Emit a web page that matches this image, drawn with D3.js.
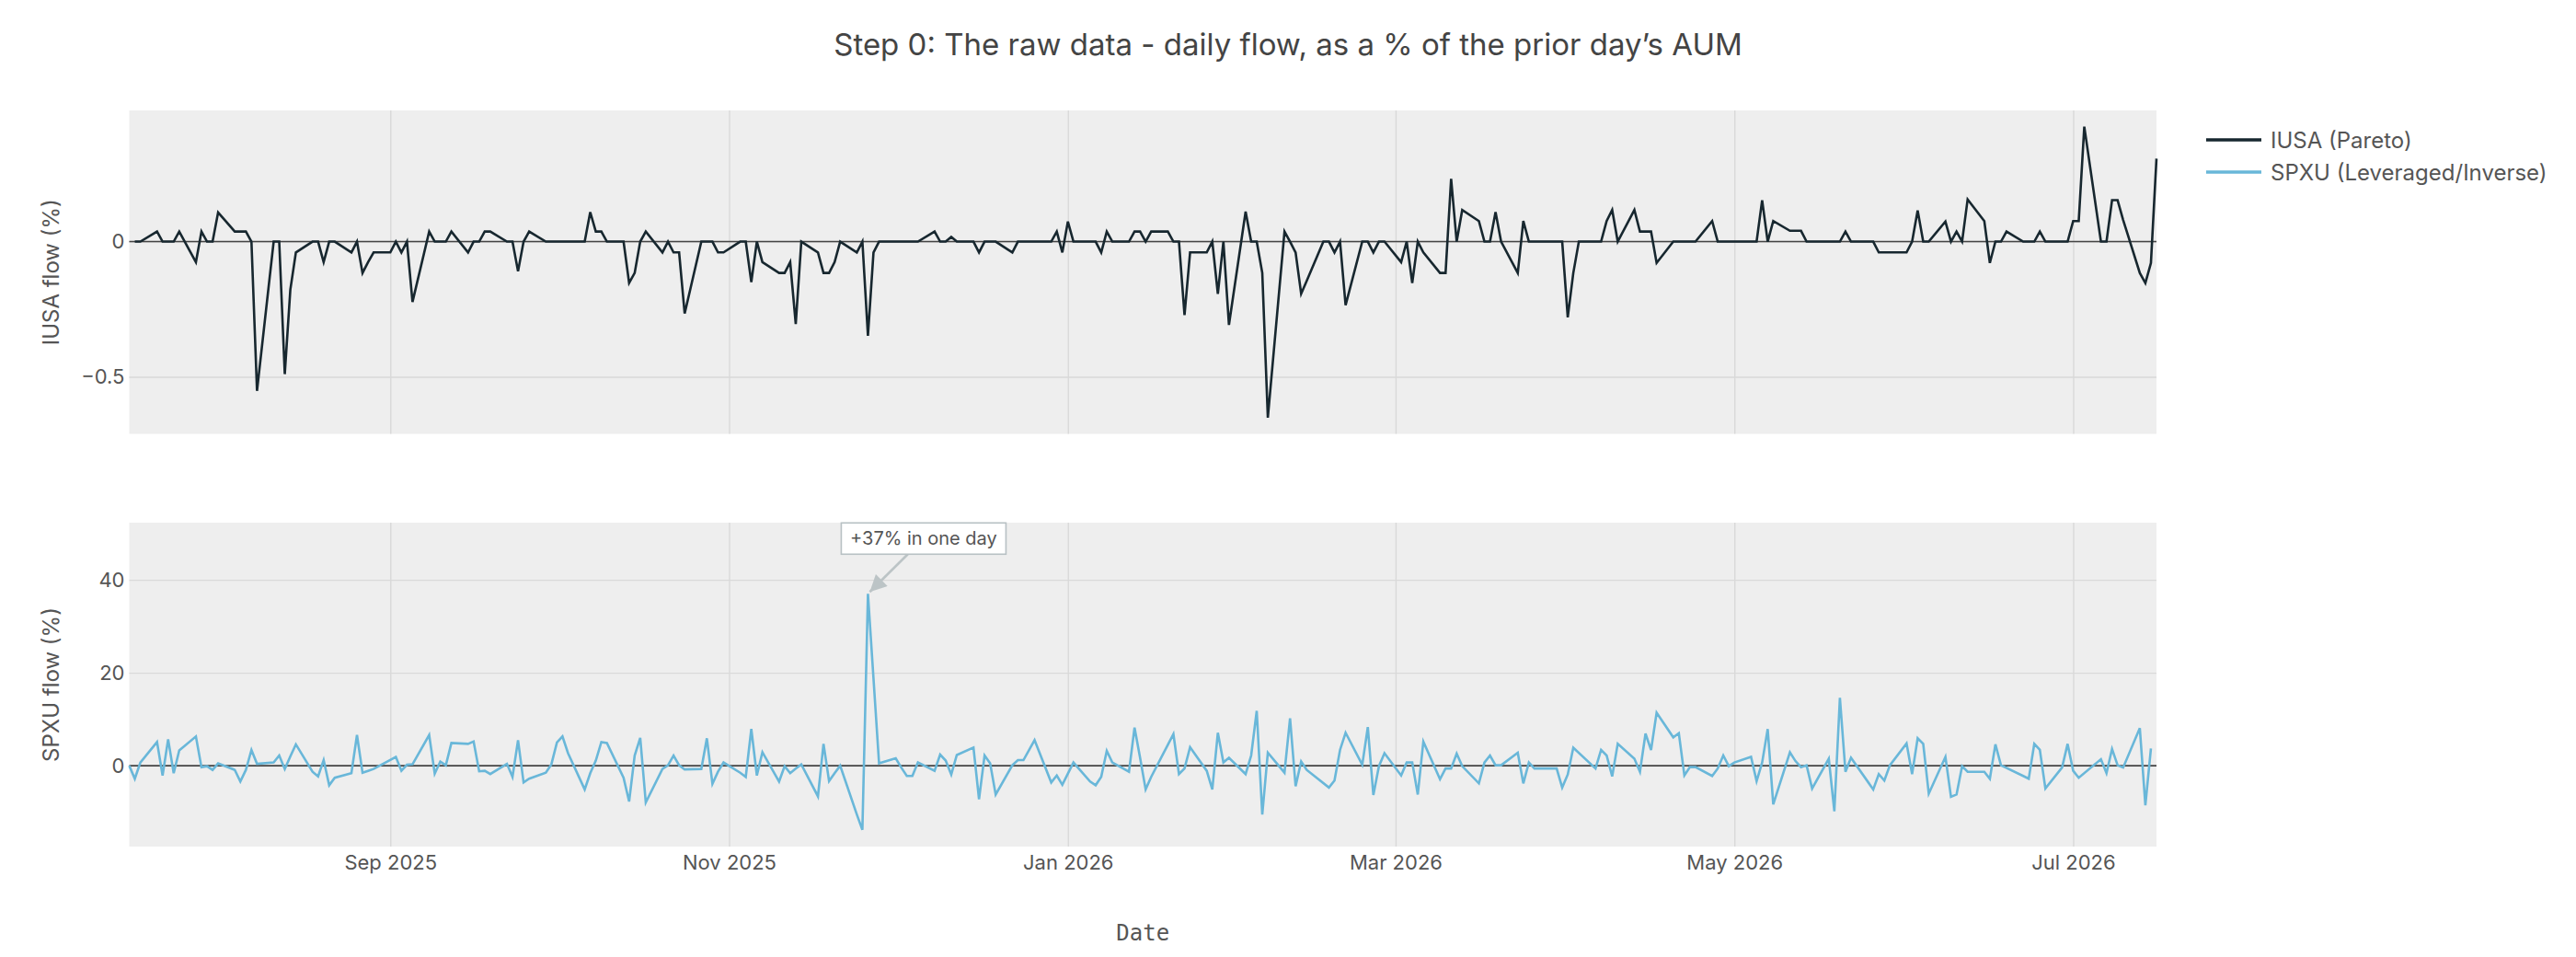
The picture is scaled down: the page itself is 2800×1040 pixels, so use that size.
<!DOCTYPE html>
<html>
<head>
<meta charset="utf-8">
<script src="https://cdn.jsdelivr.net/npm/d3@7"></script>
<style>
  html, body { margin: 0; padding: 0; background: #fff; }
  svg { display: block; font-family: Inter, "Noto Sans", sans-serif; }
</style>
</head>
<body>
<div id="chart"></div>
<script>
// --- data -------------------------------------------------------------
// IUSA trades every weekday, SPXU follows the NYSE calendar
const iusaStart = '2025-07-17', iusaEnd = '2026-07-16';
const spxuStart = '2025-07-16', spxuEnd = '2026-07-15';
const usHolidays = ['2025-09-01', '2025-11-27', '2025-12-25', '2026-01-01', '2026-01-19',
                    '2026-02-16', '2026-04-03', '2026-05-25', '2026-06-19', '2026-07-03'];

// daily flow, % of prior day AUM (one line per week)
const iusaFlow = [
  0, 0,
  0.037, 0, 0, 0, 0.037,
  -0.076, 0.037, 0, 0, 0.108,
  0.037, 0.037, 0.037, 0, -0.552,
  0, 0, -0.49, -0.178, -0.04,
  0, 0, -0.076, 0, 0,
  -0.04, 0, -0.116, -0.076, -0.04,
  -0.04, 0, -0.04, 0, -0.223,
  0.037, 0, 0, 0, 0.037,
  -0.04, 0, 0, 0.037, 0.037,
  0, 0, -0.11, 0, 0.037,
  0, 0, 0, 0, 0,
  0, 0.109, 0.037, 0.037, 0,
  0, -0.153, -0.116, 0, 0.037,
  -0.04, 0, -0.04, -0.04, -0.266,
  0, 0, 0, -0.04, -0.04,
  0, 0, -0.15, 0, -0.076,
  -0.116, -0.116, -0.076, -0.305, 0,
  -0.04, -0.116, -0.116, -0.076, 0,
  -0.04, 0, -0.348, -0.04, 0,
  0, 0, 0, 0, 0,
  0.037, 0, 0, 0.017, 0,
  0, -0.04, 0, 0, 0,
  -0.04, 0, 0, 0, 0,
  0, 0.037, -0.04, 0.074, 0,
  0, 0, -0.04, 0.037, 0,
  0, 0.037, 0.037, 0, 0.037,
  0.037, 0, 0, -0.272, -0.04,
  -0.04, 0, -0.193, 0, -0.308,
  0.111, 0, 0, -0.116, -0.651,
  0.037, 0, -0.04, -0.193, -0.145,
  0, 0, -0.04, 0, -0.235,
  0, 0, -0.04, 0, 0,
  -0.076, 0, -0.153, 0, -0.04,
  -0.116, -0.116, 0.232, 0, 0.117,
  0.076, 0, 0, 0.109, 0,
  -0.116, 0.076, 0, 0, 0,
  0, 0, -0.28, -0.116, 0,
  0, 0, 0.076, 0.117, 0,
  0.117, 0.037, 0.037, 0.037, -0.079,
  0, 0, 0, 0, 0,
  0.076, 0, 0, 0, 0,
  0, 0, 0.153, 0, 0.076,
  0.04, 0.04, 0.04, 0, 0,
  0, 0, 0, 0.037, 0,
  0, 0, -0.04, -0.04, -0.04,
  -0.04, 0, 0.115, 0, 0,
  0.074, 0, 0.037, 0, 0.156,
  0.076, -0.079, 0, 0, 0.037,
  0, 0, 0, 0.037, 0,
  0, 0, 0.076, 0.076, 0.425,
  0, 0, 0.153, 0.153, 0.08,
  -0.116, -0.153, -0.079, 0.307
];

const spxuFlow = [
  0, -2.8, 0.7,
  5.1, -2.1, 5.7, -1.6, 3.3,
  6.3, -0.3, -0.1, -0.9, 0.5,
  -0.9, -3.4, -0.9, 3.4, 0.4,
  0.7, 2.2, -0.7, 2.0, 4.6,
  -1.3, -2.3, 1.2, -4.2, -2.6,
  -1.6, 6.6, -1.5, -1.1, -0.7,
  1.9, -1.1, 0.2, 0.3,
  6.6, -1.7, 0.9, 0.1, 4.9,
  4.7, 5.2, -1.2, -1.1, -1.8,
  0.4, -2.4, 5.5, -3.6, -2.8,
  -1.5, 0.3, 5.0, 6.3, 2.7,
  -5.1, -1.6, 1.1, 5.1, 4.9,
  -2.6, -7.7, 2.2, 6.0, -7.9,
  -0.7, 0.1, 2.2, 0.1, -0.8,
  -0.7, 5.9, -3.9, -1.3, 0.7,
  -1.5, -2.4, 7.9, -2.1, 2.9,
  -3.4, -0.1, -1.6, -0.6, 0.3,
  -6.6, 4.7, -3.3, -1.6, 0,
  -10.5, -13.8, 37, 0.5,
  1.6, -0.4, -2.2, -2.2, 0.7,
  -1.1, 2.4, 1.1, -1.9, 2.3,
  3.9, -7.2, 2.2, 0.5, -6.2,
  0.1, 1.2, 1.2, 5.5,
  -3.6, -2.1, -4.1, 0.7,
  -3.4, -4.2, -2.4, 3.2, 0.7,
  -1.3, 8.2, 1.7, -5.1, -2.4,
  6.8, -1.8, -0.6, 4.0,
  -1.1, -5.1, 7.1, 0.7, 1.7,
  -1.8, 2.2, 11.8, -10.5, 2.8,
  -1.5, 10.2, -4.4, 0.9, -0.9,
  -4.7, -3.2, 3.4, 7.1,
  0.2, 8.3, -6.3, -0.1, 2.7,
  -2.1, 0.7, 0.7, -6.2, 5.2,
  -2.9, -0.6, -0.6, 2.6, -0.1,
  -3.8, 0.7, 2.2, 0.1, 0.1,
  2.8, -3.8, 0.7, -0.6, -0.6,
  -0.6, -4.7, -1.9, 3.9,
  -0.6, 3.4, 2.2, -2.3, 4.7,
  1.5, -1.3, 6.9, 3.4, 11.4,
  6.1, 7.0, -2.1, -0.3, -0.3,
  -2.2, -0.6, 2.2, -0.1, 0.7,
  1.9, -3.3, 0.7, 7.9, -8.3,
  2.9, 1.0, -0.3, 0.1, -4.9,
  1.5, -9.8, 14.6, -1.3, 1.7,
  -5.1, -1.8, -3.2, 0.1,
  4.8, -1.8, 5.9, 4.7, -6.0,
  1.9, -6.7, -6.2, -0.1, -1.3,
  -1.3, -2.8, 4.6, 0.1,
  -2.2, -2.8, 4.7, 3.4, -4.9,
  -0.4, 4.7, -1.1, -2.6,
  1.4, -1.6, 3.6, 0.1, -0.4,
  8.1, -8.5, 3.7
];

const seriesNames = ['IUSA (Pareto)', 'SPXU (Leveraged/Inverse)'];
const iusaTicks = [-0.5, 0];
const spxuTicks = [0, 20, 40];
const iusaRange = [-0.711, 0.485];
const spxuRange = [-17.4, 52.3];
const monthTicks = ['2025-09-01', '2025-11-01', '2026-01-01', '2026-03-01', '2026-05-01', '2026-07-01'];
const annotationText = '+37% in one day';

// --- helpers ------------------------------------------------------------
function tradingDays(start, end, holidays) {
    const out = [];
    const d = new Date(start + 'T00:00:00Z');
    const last = new Date(end + 'T00:00:00Z');
    while (d <= last) {
        const wd = d.getUTCDay();
        const s = d.toISOString().slice(0, 10);
        if (wd !== 0 && wd !== 6 && !holidays.includes(s)) out.push(new Date(d));
        d.setUTCDate(d.getUTCDate() + 1);
    }
    return out;
}

const iusaDates = tradingDays(iusaStart, iusaEnd, []);
const spxuDates = tradingDays(spxuStart, spxuEnd, usHolidays);
if (iusaDates.length !== iusaFlow.length) console.warn('IUSA', iusaDates.length, iusaFlow.length);
if (spxuDates.length !== spxuFlow.length) console.warn('SPXU', spxuDates.length, spxuFlow.length);

const iusa = iusaFlow.slice(0, iusaDates.length).map((v, i) => ({ date: iusaDates[i], value: v }));
const spxu = spxuFlow.slice(0, spxuDates.length).map((v, i) => ({ date: spxuDates[i], value: v }));

// --- layout -------------------------------------------------------------
const width = 2800, height = 1040;
const left = 140.5, right = 2344;
const panels = [
    { top: 120, bottom: 471.5, data: iusa, range: iusaRange, ticks: iusaTicks, color: '#17272f', label: 'IUSA flow (%)' },
    { top: 568, bottom: 920, data: spxu, range: spxuRange, ticks: spxuTicks, color: '#69b7d9', label: 'SPXU flow (%)' }
];
const textColor = '#555';

const svg = d3.select('#chart').append('svg')
    .attr('width', width)
    .attr('height', height);

const x = d3.scaleUtc()
    .domain([new Date(spxuStart + 'T00:00:00Z'), new Date(iusaEnd + 'T00:00:00Z')])
    .range([left, right]);

panels.forEach((p, idx) => {
    const y = d3.scaleLinear().domain(p.range).range([p.bottom, p.top]);
    p.y = y;
    const g = svg.append('g');

    g.append('rect')
        .attr('x', left).attr('y', p.top)
        .attr('width', right - left).attr('height', p.bottom - p.top)
        .attr('fill', '#eeeeee');

    // vertical gridlines + (bottom panel only) date labels
    const xAxis = g.append('g')
        .attr('transform', `translate(0,${p.bottom})`)
        .call(d3.axisBottom(x)
            .tickValues(monthTicks.map(s => new Date(s + 'T00:00:00Z')))
            .tickFormat(d3.utcFormat('%b %Y'))
            .tickSize(-(p.bottom - p.top))
            .tickPadding(9));
    xAxis.select('.domain').remove();
    xAxis.selectAll('line').attr('stroke', '#d9d9d9').attr('stroke-width', 1.4);
    xAxis.selectAll('text')
        .attr('fill', textColor)
        .style('font-size', '22px')
        .style('font-family', 'Inter, sans-serif')
        .style('display', idx === 1 ? null : 'none');

    // horizontal gridlines + tick labels
    const yAxis = g.append('g')
        .attr('transform', `translate(${left},0)`)
        .call(d3.axisLeft(y)
            .tickValues(p.ticks)
            .tickFormat(d => d === 0 ? '0' : d3.format('~g')(d).replace('-', '\u2212'))
            .tickSize(-(right - left))
            .tickPadding(5));
    yAxis.select('.domain').remove();
    yAxis.selectAll('line').attr('stroke', '#d9d9d9').attr('stroke-width', 1.4);
    yAxis.selectAll('text')
        .attr('fill', textColor)
        .style('font-size', '22px')
        .style('font-family', 'Inter, sans-serif');

    // zero line
    g.append('line')
        .attr('x1', left).attr('x2', right)
        .attr('y1', y(0)).attr('y2', y(0))
        .attr('stroke', '#444').attr('stroke-width', 1.6);

    const line = d3.line()
        .x(d => x(d.date))
        .y(d => y(d.value));

    g.append('path')
        .datum(p.data)
        .attr('fill', 'none')
        .attr('stroke', p.color)
        .attr('stroke-width', 2.6)
        .attr('stroke-linejoin', 'miter')
        .attr('d', line);

    // axis title
    const cy = (p.top + p.bottom) / 2;
    svg.append('text')
        .attr('transform', `translate(57,${cy}) rotate(-90)`)
        .attr('text-anchor', 'middle')
        .attr('dominant-baseline', 'middle')
        .attr('fill', textColor)
        .style('font-size', '24px')
        .text(p.label);
});

// annotation on the SPXU spike
const peak = spxu.reduce((a, b) => (b.value > a.value ? b : a));
const px = x(peak.date), py = panels[1].y(peak.value);
const boxW = 179, boxH = 34, offX = 60.5, offY = -60;
const bx = px + offX, by = py + offY;

const defs = svg.append('defs');
defs.append('marker')
    .attr('id', 'arrowhead')
    .attr('viewBox', '0 0 10 10')
    .attr('refX', 10).attr('refY', 5)
    .attr('markerWidth', 8).attr('markerHeight', 7)
    .attr('markerUnits', 'strokeWidth')
    .attr('orient', 'auto')
    .append('path')
    .attr('d', 'M0,0 L10,5 L0,10 Z')
    .attr('fill', '#bcc4c6');

const t = (boxH / 2) / Math.abs(offY);
svg.append('line')
    .attr('x1', bx - offX * t).attr('y1', by + boxH / 2)
    .attr('x2', px + 2).attr('y2', py - 2)
    .attr('stroke', '#bcc4c6')
    .attr('stroke-width', 2.6)
    .attr('marker-end', 'url(#arrowhead)');

svg.append('rect')
    .attr('x', bx - boxW / 2).attr('y', by - boxH / 2)
    .attr('width', boxW).attr('height', boxH)
    .attr('fill', '#fff')
    .attr('stroke', '#b8c1c4')
    .attr('stroke-width', 1.6);

svg.append('text')
    .attr('x', bx).attr('y', by)
    .attr('text-anchor', 'middle')
    .attr('dominant-baseline', 'central')
    .attr('fill', textColor)
    .style('font-size', '20px')
    .text(annotationText);

// title
svg.append('text')
    .attr('x', 1400).attr('y', 48)
    .attr('text-anchor', 'middle')
    .attr('dominant-baseline', 'central')
    .attr('fill', '#444')
    .style('font-size', '33px')
    .text('Step 0: The raw data - daily flow, as a % of the prior day\u2019s AUM');

// x axis title
svg.append('text')
    .attr('x', (left + right) / 2).attr('y', 1014)
    .attr('text-anchor', 'middle')
    .attr('dominant-baseline', 'central')
    .attr('fill', textColor)
    .style('font-family', '"DejaVu Sans Mono", monospace')
    .style('font-size', '24px')
    .text('Date');

// legend
const legend = svg.append('g').attr('transform', 'translate(2398,152)');
seriesNames.forEach((name, i) => {
    const row = legend.append('g').attr('transform', `translate(0,${i * 35})`);
    row.append('line')
        .attr('x1', 0).attr('x2', 60)
        .attr('stroke', panels[i].color)
        .attr('stroke-width', 3.5);
    row.append('text')
        .attr('x', 70)
        .attr('dominant-baseline', 'central')
        .attr('fill', textColor)
        .style('font-size', '24px')
        .text(name);
});
</script>
</body>
</html>
